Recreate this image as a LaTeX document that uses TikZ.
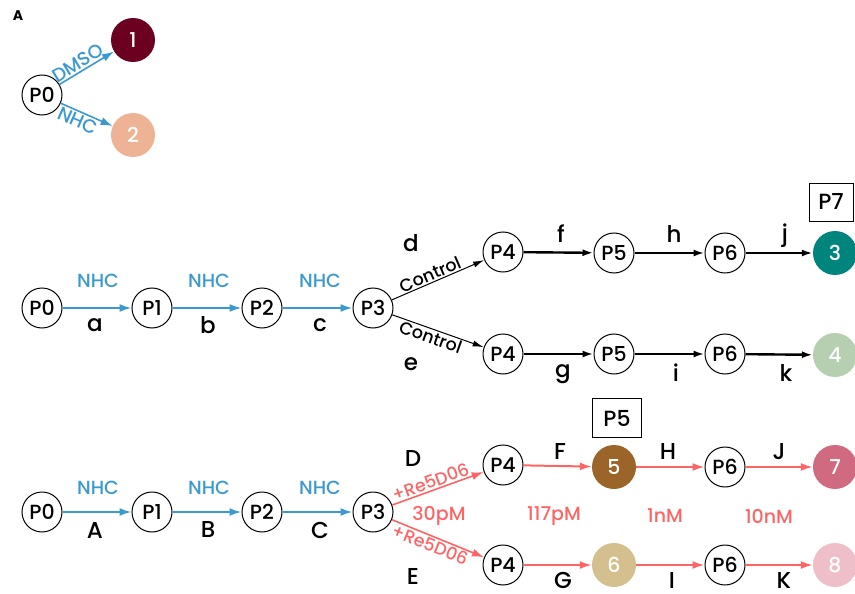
\documentclass[tikz,border=0pt]{standalone}
\usepackage{fontspec}
\setmainfont{Poppins}[UprightFont=* Medium,BoldFont=* Bold]
\usetikzlibrary{arrows.meta}
\definecolor{nhcblue}{HTML}{3A9AD0}
\definecolor{rered}{HTML}{FF6464}
\definecolor{cone}{HTML}{6B0020}
\definecolor{ctwo}{HTML}{EDB394}
\definecolor{cthree}{HTML}{00857D}
\definecolor{cfour}{HTML}{B6CFB0}
\definecolor{cfive}{HTML}{9B6428}
\definecolor{csix}{HTML}{D4C08E}
\definecolor{cseven}{HTML}{D06A80}
\definecolor{ceight}{HTML}{EEBFC8}
\tikzset{
  pnode/.style={circle,draw=black,line width=1pt,fill=white,minimum size=40pt,inner sep=0pt,font=\fontsize{20.5}{20.5}\selectfont},
  cnode/.style={circle,fill=#1,minimum size=44pt,inner sep=0pt,text=white,font=\fontsize{20.5}{20.5}\selectfont},
  barrow/.style={nhcblue,line width=2pt,-{Latex[length=12pt,width=8pt]}},
  thinarrow/.style={black,line width=1pt,-{Latex[length=11pt,width=6pt]}},
  thickarrow/.style={black,line width=2.4pt,-{Latex[length=11pt,width=7pt]}},
  rarrow/.style={rered,line width=2pt,-{Latex[length=12pt,width=8pt]}},
  nhclab/.style={text=nhcblue,font=\fontsize{19}{19}\selectfont},
  letlab/.style={text=black,font=\fontsize{23}{23}\selectfont},
  conclab/.style={text=rered,font=\fontsize{19}{19}\selectfont},
  slopelab/.style={font=\fontsize{17.5}{17.5}\selectfont},
  boxlab/.style={draw=black,line width=1pt,minimum width=44pt,minimum height=38pt,inner sep=0pt,font=\fontsize{22}{22}\selectfont},
}
\begin{document}
\begin{tikzpicture}[x=1pt,y=-1pt]
\useasboundingbox (0,0) rectangle (855,594);
% Panel A
\node[font=\bfseries\fontsize{14}{14}\selectfont] (lblA) at (18,16) {A};
\node[pnode] (a0) at (42,95) {P0};
\node[cnode=cone] (n1) at (133,40) {1};
\node[cnode=ctwo] (n2) at (133,135) {2};
\draw[barrow,line width=1.6pt] (a0) -- node[sloped,above=-2pt,nhclab,pos=0.42] {DMSO} (n1);
\draw[barrow,line width=1.6pt] (a0) -- node[sloped,below=-2pt,nhclab,pos=0.4] {NHC} (n2);

% Row 1
\node[pnode] (p0) at (42,308) {P0};
\node[pnode] (p1) at (152,308) {P1};
\node[pnode] (p2) at (262,308) {P2};
\node[pnode] (p3) at (373,308) {P3};
\draw[barrow] (p0) -- (p1);
\draw[barrow] (p1) -- (p2);
\draw[barrow] (p2) -- (p3);
\node[nhclab] (l1) at (98,281) {NHC};
\node[nhclab] (l2) at (209,281) {NHC};
\node[nhclab] (l3) at (320,281) {NHC};
\node[letlab] (la) at (95,325) {a};
\node[letlab] (lb) at (208,325) {b};
\node[letlab] (lc) at (320,325) {c};
\node[pnode] (u4) at (503,252) {P4};
\node[pnode] (u5) at (614,253) {P5};
\node[pnode] (u6) at (725,253) {P6};
\node[cnode=cthree] (n3) at (835,253) {3};
\node[pnode] (d4) at (503,354) {P4};
\node[pnode] (d5) at (614,354) {P5};
\node[pnode] (d6) at (725,354) {P6};
\node[cnode=cfour] (n4) at (835,355) {4};
\draw[thinarrow] (p3) -- node[sloped,above=-2pt,pos=0.45,slopelab] {Control} (u4);
\draw[thinarrow] (p3) -- node[sloped,below=-2pt,pos=0.45,slopelab] {Control} (d4);
\draw[thickarrow] (u4) -- (u5);
\draw[thickarrow] (u5) -- (u6);
\draw[thickarrow] (u6) -- (n3);
\draw[thickarrow] (d4) -- (d5);
\draw[thickarrow] (d5) -- (d6);
\draw[thickarrow] (d6) -- (n4);
\node[letlab] (ld) at (411,243) {d};
\node[letlab] (le) at (411,364) {e};
\node[letlab] (lf) at (561,234) {f};
\node[letlab] (lh) at (674,234) {h};
\node[letlab] (lj) at (785,236) {j};
\node[letlab] (lg) at (563,374) {g};
\node[letlab] (li) at (676,373) {i};
\node[letlab] (lk) at (786,373) {k};
\node[boxlab] (p7) at (831,202) {P7};

% Row 3
\node[pnode] (q0) at (42,512) {P0};
\node[pnode] (q1) at (152,512) {P1};
\node[pnode] (q2) at (262,512) {P2};
\node[pnode] (q3) at (373,512) {P3};
\draw[barrow] (q0) -- (q1);
\draw[barrow] (q1) -- (q2);
\draw[barrow] (q2) -- (q3);
\node[nhclab] (m1) at (98,488) {NHC};
\node[nhclab] (m2) at (209,488) {NHC};
\node[nhclab] (m3) at (320,488) {NHC};
\node[letlab] (lA) at (95,530) {A};
\node[letlab] (lB) at (208,530) {B};
\node[letlab] (lC) at (320,530) {C};
\node[pnode] (v4) at (503,465) {P4};
\node[cnode=cfive] (n5) at (614,467) {5};
\node[pnode] (v6) at (725,467) {P6};
\node[cnode=cseven] (n7) at (835,467) {7};
\node[pnode] (w4) at (503,565) {P4};
\node[cnode=csix] (n6) at (614,565) {6};
\node[pnode] (w6) at (725,565) {P6};
\node[cnode=ceight] (n8) at (835,565) {8};
\draw[rarrow,line width=1.6pt] (q3) -- node[sloped,above=-2pt,pos=0.45,text=rered,slopelab] {+Re5D06} (v4);
\draw[rarrow,line width=1.6pt] (q3) -- node[sloped,below=-2pt,pos=0.45,text=rered,slopelab] {+Re5D06} (w4);
\draw[rarrow] (v4) -- (n5);
\draw[rarrow] (n5) -- (v6);
\draw[rarrow] (v6) -- (n7);
\draw[rarrow] (w4) -- (n6);
\draw[rarrow] (n6) -- (w6);
\draw[rarrow] (w6) -- (n8);
\node[letlab] (lD) at (413,459) {D};
\node[letlab] (lE) at (413,576) {E};
\node[letlab] (lF) at (560,452) {F};
\node[letlab] (lH) at (668,452) {H};
\node[letlab] (lJ) at (779,452) {J};
\node[letlab] (lG) at (563,580) {G};
\node[letlab] (lI) at (672,581) {I};
\node[letlab] (lK) at (784,581) {K};
\node[conclab] (c1) at (439,516) {30pM};
\node[conclab] (c2) at (554,516) {117pM};
\node[conclab] (c3) at (665,516) {1nM};
\node[conclab] (c4) at (769,516) {10nM};
\node[boxlab,minimum width=49pt,minimum height=39pt] (p5box) at (617,418) {P5};
\end{tikzpicture}
\end{document}
